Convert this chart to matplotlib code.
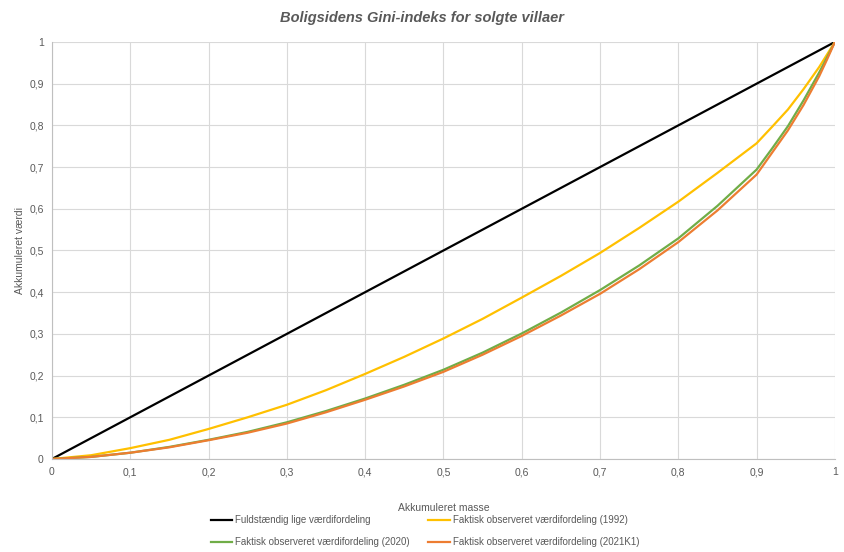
"""Lorenz curves for sold villas (Gini index)."""
import numpy as np
import matplotlib
matplotlib.use("Agg")
import matplotlib.pyplot as plt

plt.rcParams.update({"font.family": ["Liberation Sans", "DejaVu Sans"], "font.size": 7.5})

# === data ===
masse = [0, 0.05, 0.1, 0.15, 0.2, 0.25, 0.3, 0.35, 0.4, 0.45, 0.5, 0.55,
         0.6, 0.65, 0.7, 0.75, 0.8, 0.85, 0.9, 0.92, 0.94, 0.96, 0.98, 0.99, 1.0]
lige = [0, 0.05, 0.1, 0.15, 0.2, 0.25, 0.3, 0.35, 0.4, 0.45, 0.5, 0.55,
        0.6, 0.65, 0.7, 0.75, 0.8, 0.85, 0.9, 0.92, 0.94, 0.96, 0.98, 0.99, 1.0]
obs_1992 = [0, 0.009, 0.026, 0.046, 0.072, 0.100, 0.130, 0.165, 0.204, 0.245, 0.289, 0.336,
            0.387, 0.439, 0.494, 0.554, 0.617, 0.686, 0.757, 0.797, 0.838, 0.887, 0.940, 0.970, 1.0]
obs_2020 = [0, 0.005, 0.015, 0.029, 0.046, 0.065, 0.088, 0.115, 0.145, 0.178, 0.214, 0.255,
            0.301, 0.351, 0.405, 0.464, 0.529, 0.607, 0.694, 0.745, 0.798, 0.860, 0.927, 0.963, 1.0]
obs_2021 = [0, 0.005, 0.015, 0.028, 0.045, 0.063, 0.085, 0.112, 0.142, 0.174, 0.209, 0.250,
            0.295, 0.344, 0.396, 0.455, 0.520, 0.596, 0.682, 0.735, 0.788, 0.849, 0.918, 0.958, 1.0]
ticks = np.round(np.arange(0, 1.01, 0.1), 1)
tick_labels = ["0", "0,1", "0,2", "0,3", "0,4", "0,5", "0,6", "0,7", "0,8", "0,9", "1"]

fig = plt.figure(figsize=(8.45, 5.52), dpi=100)
ax = fig.add_axes([0.0615, 0.1685, 0.9265, 0.7554])

l1, = ax.plot(masse, lige, color="#000000", lw=1.6, label="Fuldstændig lige værdifordeling")
l2, = ax.plot(masse, obs_1992, color="#FFC000", lw=1.6, label="Faktisk observeret værdifordeling (1992)")
l3, = ax.plot(masse, obs_2020, color="#70AD47", lw=1.6, label="Faktisk observeret værdifordeling (2020)")
l4, = ax.plot(masse, obs_2021, color="#ED7D31", lw=1.6, label="Faktisk observeret værdifordeling (2021K1)")

ax.set_xlim(0, 1)
ax.set_ylim(0, 1)
ax.set_xticks(ticks)
ax.set_xticklabels(tick_labels)
ax.set_yticks(ticks)
ax.set_yticklabels(tick_labels)
ax.tick_params(length=0, colors="#595959", labelsize=7.5, pad=6)
ax.grid(True, color="#d9d9d9", lw=0.8)
ax.set_axisbelow(True)
for s in ["top", "right"]:
    ax.spines[s].set_visible(False)
for s in ["left", "bottom"]:
    ax.spines[s].set_color("#bfbfbf")
    ax.spines[s].set_linewidth(0.8)

ax.set_xlabel("Akkumuleret masse", color="#595959", fontsize=7.5)
ax.set_ylabel("Akkumuleret værdi", color="#595959", fontsize=7.5, labelpad=3)
ax.xaxis.set_label_coords(0.5, -0.105)
fig.text(0.5, 0.968, "Boligsidens Gini-indeks for solgte villaer", ha="center", va="center",
         fontsize=10.5, fontweight="bold", fontstyle="italic", color="#595959")

leg = fig.legend([l1, l3, l2, l4], [l1.get_label(), l3.get_label(), l2.get_label(), l4.get_label()],
                 ncol=2, loc="center", bbox_to_anchor=(0.503, 0.038), frameon=False,
                 fontsize=7.0, handlelength=2.2, handletextpad=0.3, columnspacing=1.9,
                 labelspacing=1.25)
for t in leg.get_texts():
    t.set_color("#595959")

fig.savefig("out.png", dpi=100)
plt.close()
